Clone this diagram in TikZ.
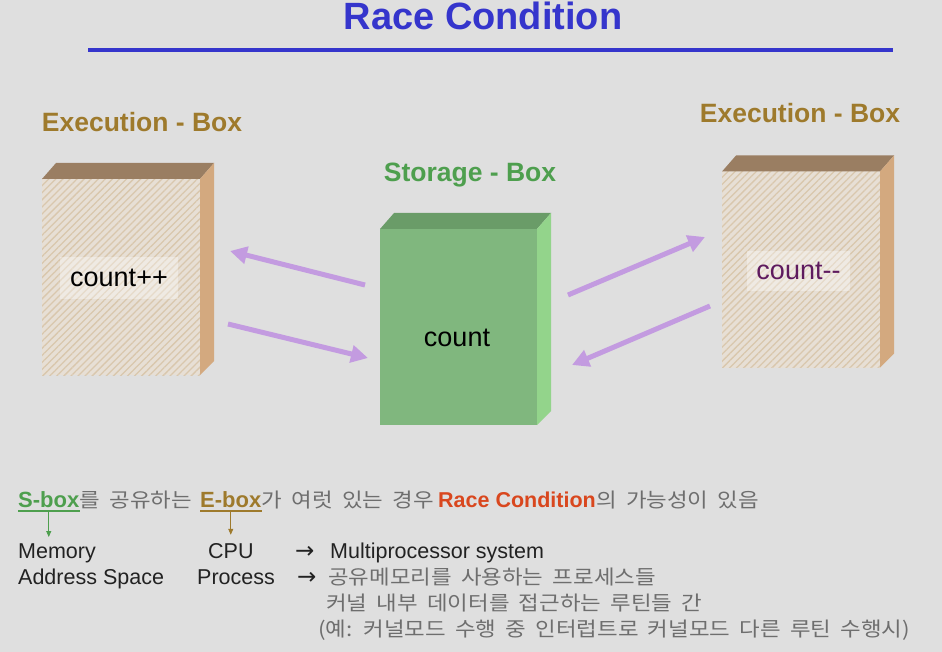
\documentclass[tikz,border=0pt]{standalone}
\usepackage{fontspec}
\setmainfont{Liberation Sans}
\newfontfamily\kr[WordSpace=1.85,FakeStretch=1.12]{Noto Sans CJK KR}
\newfontfamily\dv{DejaVu Sans}
\usetikzlibrary{patterns.meta,arrows.meta,calc}
\definecolor{bg}{HTML}{DFDFDF}
\definecolor{titleblue}{HTML}{3535CC}
\definecolor{olive}{HTML}{9E7A2C}
\definecolor{sgreen}{HTML}{4E9F4E}
\definecolor{arrowc}{HTML}{C39BE0}
\definecolor{efront}{HTML}{E7DFD5}
\definecolor{estripe}{HTML}{D9C7AD}
\definecolor{etop}{HTML}{9A7E62}
\definecolor{eside}{HTML}{D3A97F}
\definecolor{gfront}{HTML}{80B77E}
\definecolor{gtop}{HTML}{6A9C68}
\definecolor{gside}{HTML}{93D48B}
\definecolor{raceorange}{HTML}{D9471E}
\definecolor{krgray}{HTML}{6E6E6E}
\definecolor{txt}{HTML}{222222}
\definecolor{cntpurple}{HTML}{5E1A5E}
\newcommand\cubefaces[3]{%
  \fill[#2] (#1.north west) -- ++(14,-16) -- ($(#1.north east)+(14,-16)$) -- (#1.north east) -- cycle;
  \fill[#3] (#1.north east) -- ++(14,-16) -- ($(#1.south east)+(14,-14)$) -- (#1.south east) -- cycle;}
\begin{document}
\begin{tikzpicture}[x=1pt,y=-1pt,
  ebox/.style={fill=efront, postaction={pattern={Lines[angle=45,distance=5pt,line width=1.3pt]}, pattern color=estripe},
    minimum width=158pt, minimum height=196pt, inner sep=0pt, outer sep=0pt},
  sbox/.style={fill=gfront, minimum width=157pt, minimum height=196pt, inner sep=0pt, outer sep=0pt},
  boxlabel/.style={font=\fontsize{26.5}{30}\selectfont\bfseries, anchor=base, inner sep=0pt},
  lblbg/.style={fill=white, fill opacity=0.35, text opacity=1, font=\fontsize{27}{30}\selectfont, inner sep=0pt},
  flow/.style={draw=arrowc, line width=5pt, -{Triangle[length=17pt,width=17pt]}},
  bt/.style={font=\fontsize{21.5}{24}\selectfont, text=txt, anchor=base west, inner sep=0pt},
  kt/.style={font=\kr\fontsize{20}{24}\selectfont, text=krgray, anchor=base west, inner sep=0pt},
  arrglyph/.style={font=\dv\fontsize{23}{24}\selectfont, text=txt, anchor=base west, inner sep=0pt},
  smallarr/.style={line width=0.8pt, -{Triangle[length=6pt,width=5pt]}}]
\useasboundingbox (0,0) rectangle (942,652);
\fill[bg] (0,0) rectangle (942,652);

% title
\node[font=\fontsize{38}{40}\selectfont\bfseries, text=titleblue, anchor=base, inner sep=0pt] (title) at (483,30) {Race Condition};
\coordinate (rl) at (88,50);
\coordinate (rr) at (893,50);
\draw[titleblue, line width=4pt] (rl) -- (rr);

% left execution box
\node[boxlabel, text=olive] (labL) at (142,132) {Execution - Box};
\node[ebox] (eL) at (121,277) {};
\cubefaces{eL}{etop}{eside}
\node[lblbg, minimum width=118pt, minimum height=41pt] (cL) at (119,278) {count++};

% right execution box
\node[boxlabel, text=olive] (labR) at (800,123) {Execution - Box};
\node[ebox] (eR) at (801,269.5) {};
\cubefaces{eR}{etop}{eside}
\node[lblbg, minimum width=103pt, minimum height=40pt, text=cntpurple] (cR) at (798.5,271) {count{-}{-}};

% storage box
\node[boxlabel, text=sgreen] (labS) at (470,182) {Storage - Box};
\node[sbox] (sB) at (458.5,327) {};
\cubefaces{sB}{gtop}{gside}
\node[font=\fontsize{27}{30}\selectfont, text=black, inner sep=0pt] (cS) at (457,338) {count};

% arrows
\coordinate (l1s) at (365,285); \coordinate (l1e) at (230,251);
\coordinate (l2s) at (228,324); \coordinate (l2e) at (368,358);
\coordinate (r1s) at (568,295); \coordinate (r1e) at (705,237);
\coordinate (r2s) at (710,306); \coordinate (r2e) at (572,365);
\draw[flow] (l1s) -- (l1e);
\draw[flow] (l2s) -- (l2e);
\draw[flow] (r1s) -- (r1e);
\draw[flow] (r2s) -- (r2e);

% bottom text line 1
\node[bt, font=\fontsize{22}{24}\selectfont\bfseries, text=sgreen] (sbx) at (18,507) {S-box};
\node[kt] (k1) at (sbx.base east) {를 공유하는};
\node[bt, font=\fontsize{22}{24}\selectfont\bfseries, text=olive] (ebx) at (200,507) {E-box};
\node[kt] (k2) at (ebx.base east) {가 여럿 있는 경우};
\node[bt, font=\fontsize{21.5}{24}\selectfont\bfseries, text=raceorange] (race) at (438,507) {Race Condition};
\node[kt] (k3) at (race.base east) {의 가능성이 있음};
\draw[sgreen, line width=1.2pt] ($(sbx.base west)+(0,4)$) -- ($(sbx.base east)+(0,4)$);
\draw[olive, line width=1.2pt] ($(ebx.base west)+(0,4)$) -- ($(ebx.base east)+(0,4)$);

% rows
\node[bt] (mem) at (18,558) {Memory};
\node[bt] (cpu) at (208,558) {CPU};
\node[arrglyph] (ar1) at (295,558) {→};
\node[bt] (mp) at (330,558) {Multiprocessor system};
\node[bt] (asp) at (18,584) {Address Space};
\node[bt] (proc) at (197,584) {Process};
\node[arrglyph] (ar2) at (297,584) {→};
\node[kt] (k4) at (328,584) {공유메모리를 사용하는 프로세스들};
\node[kt] (k5) at (326,610) {커널 내부 데이터를 접근하는 루틴들 간};
\node[kt] (k6) at (318,636) {(예: 커널모드 수행 중 인터럽트로 커널모드 다른 루틴 수행시)};

\draw[sgreen, smallarr] ($(sbx.base)+(0,5)$) -- ($(sbx.base |- mem.north)+(0,-6)$);
\draw[olive, smallarr] ($(ebx.base)+(0,5)$) -- ($(ebx.base |- cpu.north)+(0,-8)$);
\end{tikzpicture}
\end{document}
